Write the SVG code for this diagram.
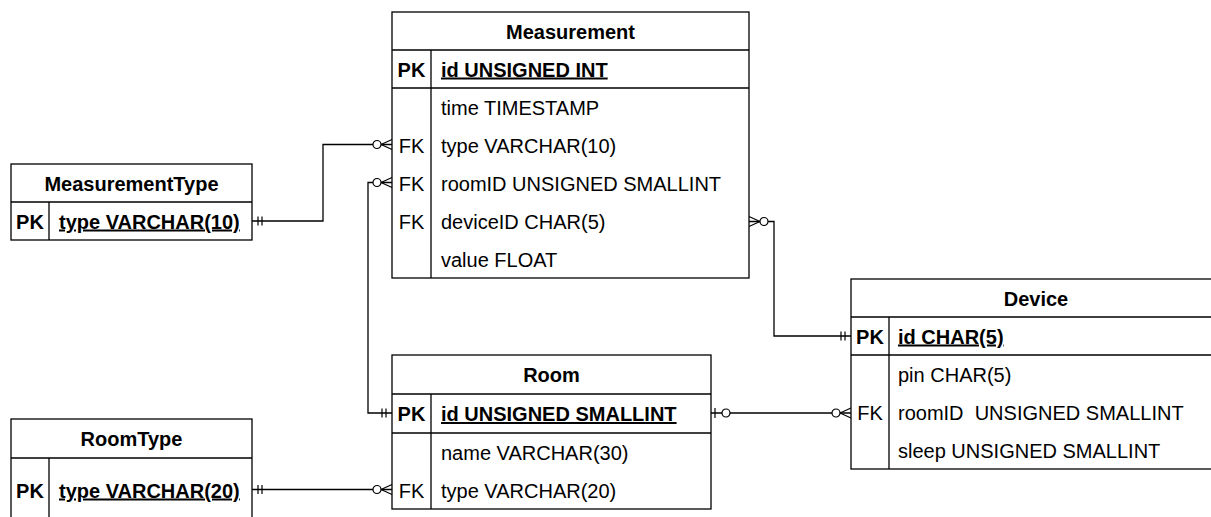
<svg xmlns="http://www.w3.org/2000/svg" width="1211" height="517" viewBox="0 0 1211 517">
<style>
text{font-family:"Liberation Sans",Arial,Helvetica,sans-serif;font-size:20px;fill:#000}
.t{font-weight:bold;text-anchor:middle}
.k{text-anchor:middle}
.pk{font-weight:bold;text-anchor:middle}
.pkf{font-weight:bold;text-decoration:underline}
.pre{white-space:pre}
.box{fill:#fff;stroke:#000;stroke-width:1.3}
.ln{fill:none;stroke:#000;stroke-width:1.3}
.c{fill:none;stroke:#000;stroke-width:1.3}
.m{fill:none;stroke:#000;stroke-width:1.2}
.mc{fill:#fff;stroke:#000;stroke-width:1.2}
</style>
<defs>
<marker id="many0" markerUnits="userSpaceOnUse" orient="auto-start-reverse" refX="0" refY="0" markerWidth="1" markerHeight="1" overflow="visible">
<path class="m" d="M-11,0L0,-5M-11,0L0,5"/>
<circle class="mc" cx="-15" cy="0" r="4"/>
</marker>
<marker id="one1" markerUnits="userSpaceOnUse" orient="auto-start-reverse" refX="0" refY="0" markerWidth="1" markerHeight="1" overflow="visible">
<path class="m" d="M-6,-4.5V4.5M-10,-4.5V4.5"/>
</marker>
<marker id="one0" markerUnits="userSpaceOnUse" orient="auto-start-reverse" refX="0" refY="0" markerWidth="1" markerHeight="1" overflow="visible">
<path class="m" d="M-4,-5V5"/>
<circle class="mc" cx="-15" cy="0" r="4"/>
</marker>
</defs>

<g id="connectors">
<path class="c" d="M252,221H323V144.5H392" marker-start="url(#one1)" marker-end="url(#many0)"/>
<path class="c" d="M392,182.5H368V413H392" marker-start="url(#many0)" marker-end="url(#one1)"/>
<path class="c" d="M749,221.5H774V336H851" marker-start="url(#many0)" marker-end="url(#one1)"/>
<path class="c" d="M711,413H851" marker-start="url(#one0)" marker-end="url(#many0)"/>
<path class="c" d="M252,489.5H392" marker-start="url(#one1)" marker-end="url(#many0)"/>
</g>

<g id="MeasurementType">
<rect class="box" x="11" y="164" width="241" height="76"/>
<path class="ln" d="M11,202H252M49,202V240"/>
<text class="t" x="131.5" y="190.5">MeasurementType</text>
<text class="pk" x="30" y="228.5">PK</text>
<text class="pkf" x="59" y="228.5">type VARCHAR(10)</text>
</g>

<g id="Measurement">
<rect class="box" x="392" y="12" width="357" height="266"/>
<path class="ln" d="M392,50H749M392,88H749M431,50V278"/>
<text class="t" x="570.5" y="38.5">Measurement</text>
<text class="pk" x="411.5" y="76.5">PK</text>
<text class="pkf" x="441" y="76.5">id UNSIGNED INT</text>
<text x="441" y="114.5">time TIMESTAMP</text>
<text class="k" x="411.5" y="152.5">FK</text>
<text x="441" y="152.5">type VARCHAR(10)</text>
<text class="k" x="411.5" y="190.5">FK</text>
<text x="441" y="190.5">roomID UNSIGNED SMALLINT</text>
<text class="k" x="411.5" y="228.5">FK</text>
<text x="441" y="228.5">deviceID CHAR(5)</text>
<text x="441" y="266.5">value FLOAT</text>
</g>

<g id="Device">
<rect class="box" x="851" y="279" width="370" height="190"/>
<path class="ln" d="M851,317H1221M851,355H1221M889,317V469"/>
<text class="t" x="1036" y="305.5">Device</text>
<text class="pk" x="870" y="343.5">PK</text>
<text class="pkf" x="898" y="343.5">id CHAR(5)</text>
<text x="898" y="381.5">pin CHAR(5)</text>
<text class="k" x="870" y="419.5">FK</text>
<text class="pre" x="898" y="419.5" xml:space="preserve">roomID  UNSIGNED SMALLINT</text>
<text x="898" y="457.5">sleep UNSIGNED SMALLINT</text>
</g>

<g id="Room">
<rect class="box" x="392" y="355" width="319" height="154"/>
<path class="ln" d="M392,394H711M392,433H711M431,394V509"/>
<text class="t" x="551.5" y="382">Room</text>
<text class="pk" x="411.5" y="421">PK</text>
<text class="pkf" x="441" y="421">id UNSIGNED SMALLINT</text>
<text x="441" y="459.5">name VARCHAR(30)</text>
<text class="k" x="411.5" y="497.5">FK</text>
<text x="441" y="497.5">type VARCHAR(20)</text>
</g>

<g id="RoomType">
<rect class="box" x="11" y="419" width="241" height="110"/>
<path class="ln" d="M11,458H252M49,458V529"/>
<text class="t" x="131.5" y="446">RoomType</text>
<text class="pk" x="30" y="497.5">PK</text>
<text class="pkf" x="59" y="497.5">type VARCHAR(20)</text>
</g>
</svg>
